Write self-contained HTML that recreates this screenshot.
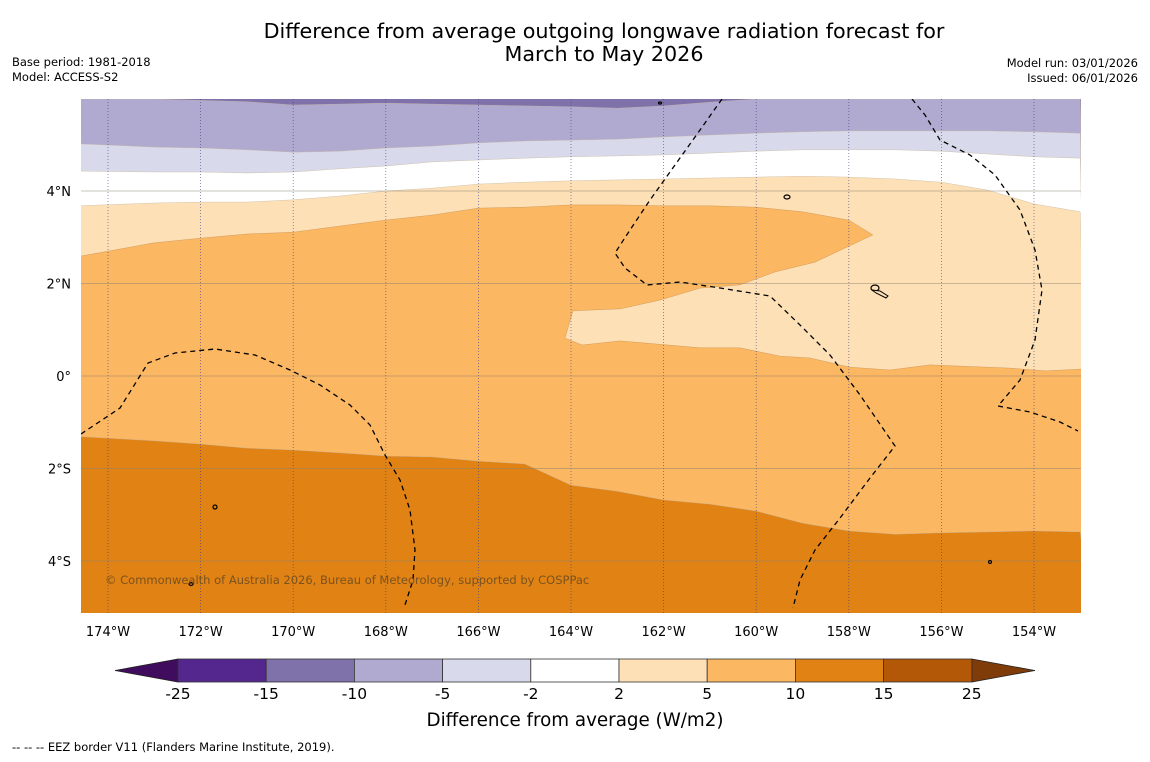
<!DOCTYPE html>
<html><head><meta charset="utf-8"><style>
body{margin:0;background:#fff;font-family:"DejaVu Sans","Liberation Sans",sans-serif;}
svg text{font-family:"DejaVu Sans","Liberation Sans",sans-serif;}
</style></head><body>
<svg id="c" width="1150" height="758" xmlns="http://www.w3.org/2000/svg">
<rect width="1150" height="758" fill="#fff"/>
<text x="604" y="38" font-size="20.7" text-anchor="middle">Difference from average outgoing longwave radiation forecast for</text>
<text x="604" y="61" font-size="20.7" text-anchor="middle">March to May 2026</text>
<text x="12" y="66" font-size="11.5">Base period: 1981-2018</text>
<text x="12" y="81" font-size="11.5">Model: ACCESS-S2</text>
<text x="1138" y="67" font-size="11.5" text-anchor="end">Model run: 03/01/2026</text>
<text x="1138" y="82" font-size="11.5" text-anchor="end">Issued: 06/01/2026</text>
<g id="map"></g>
<g id="cbar"></g>
<text x="575" y="726" font-size="18.3" text-anchor="middle">Difference from average (W/m2)</text>
<text x="12" y="751" font-size="11.5">--  --  -- EEZ border V11 (Flanders Marine Institute, 2019).</text>
</svg>
<script>
const lons=[-174.6,-173,-172,-171,-170,-169,-168,-167,-166,-165,-164,-163,-162,-161,-160,-159,-158,-157,-156,-155,-154,-153];
const latM10=[5.99,5.99,5.96,5.93,5.86,5.88,5.90,5.88,5.86,5.84,5.82,5.79,5.84,5.92,5.99,5.99,5.99,5.99,5.99,5.99,5.99,5.99];
const latM5=[5.02,4.95,4.93,4.89,4.84,4.86,4.93,4.97,5.04,5.08,5.10,5.12,5.17,5.21,5.25,5.28,5.30,5.30,5.30,5.30,5.28,5.25];
const latM2=[4.43,4.41,4.41,4.39,4.41,4.48,4.54,4.63,4.67,4.71,4.74,4.76,4.78,4.82,4.86,4.89,4.89,4.89,4.86,4.80,4.74,4.71];
const latP2=[3.68,3.74,3.76,3.76,3.81,3.89,4.00,4.06,4.15,4.19,4.22,4.24,4.26,4.28,4.30,4.32,4.30,4.26,4.19,4.02,3.72,3.55];
const latP10=[-1.31,-1.40,-1.47,-1.56,-1.60,-1.66,-1.73,-1.75,-1.84,-1.90,-2.36,-2.49,-2.68,-2.77,-2.92,-3.18,-3.35,-3.42,-3.39,-3.37,-3.35,-3.37];
const p5TopLon=[-174.6,-173,-172,-171,-170,-169,-168,-167,-166,-165,-164,-163,-162,-161,-160,-159,-158,-157.48];
const p5TopLat=[2.59,2.88,2.98,3.07,3.11,3.24,3.37,3.48,3.63,3.65,3.70,3.70,3.68,3.68,3.65,3.55,3.37,3.05];
const tongueTopLon=[-158.73,-159.59,-160.35,-161.21,-162.08,-162.94,-163.96,-164.13];
const tongueTopLat=[2.46,2.25,1.97,1.90,1.64,1.45,1.41,0.82];
const tongueBotLon=[-163.76,-162.94,-161.21,-160.35,-159.49,-158.84,-157.97,-157.11,-156.25,-154.52,-153.76,-152.98];
const tongueBotLat=[0.67,0.76,0.61,0.61,0.43,0.39,0.19,0.13,0.24,0.17,0.11,0.15];
const xTicks=[-174,-172,-170,-168,-166,-164,-162,-160,-158,-156,-154];
const yTicks=[4,2,0,-2,-4];
const cbLevels=["-25","-15","-10","-5","-2","2","5","10","15","25"];
const cbColors=["#54278f","#7f72ab","#b0a9d0","#d8d9ea","#ffffff","#fde0b6","#fbb762","#e08214","#b35806"];

const L=81,R=1081,T=99,B=613;
const X=lon=>108+(lon+174)*46.3;
const Y=lat=>376-lat*46.25;
const NS="http://www.w3.org/2000/svg";
const map=document.getElementById('map');
function el(tag,attrs,parent){const e=document.createElementNS(NS,tag);for(const k in attrs)e.setAttribute(k,attrs[k]);(parent||map).appendChild(e);return e;}
const cp=el('clipPath',{id:'mc'});el('rect',{x:L,y:T,width:R-L,height:B-T},cp);
const g=el('g',{'clip-path':'url(#mc)'});
function pts(lo,la){return lo.map((v,i)=>X(v).toFixed(1)+','+Y(la[i]).toFixed(1));}
function band(lats,color,name){
  const p=pts(lons,lats).concat([X(lons[lons.length-1])+10+','+(B+10),(X(lons[0])-10)+','+(B+10)]);
  const e=el('polygon',{points:p.join(' '),fill:color,stroke:'#c8b8a0','stroke-width':0.4},g);
  
  
}
const bg=el('rect',{x:L,y:T,width:R-L,height:B-T,fill:'#7f72ab'},g);


band(latM10,'#b0a9d0','band-minus10-to-minus5');
band(latM5,'#d8d9ea','band-minus5-to-minus2');
band(latM2,'#ffffff','band-minus2-to-2');
band(latP2,'#fde0b6','band-2-to-5');
{
  const p=pts(p5TopLon,p5TopLat).concat(pts(tongueTopLon,tongueTopLat),pts(tongueBotLon,tongueBotLat),[(R+10)+','+(B+10),(L-10)+','+(B+10)]);
  const e=el('polygon',{points:p.join(' '),fill:'#fbb762',stroke:'#c89050','stroke-width':0.4},g);
  
  
}
band(latP10,'#e08214','band-10-to-15');
xTicks.forEach(v=>{const l=el('line',{x1:X(v),x2:X(v),y1:T,y2:B,stroke:'#3a3a80','stroke-width':0.8,'stroke-dasharray':'1,2',opacity:0.7},g);

});
yTicks.forEach(v=>{const l=el('line',{x1:L,x2:R,y1:Y(v),y2:Y(v),stroke:'#8a8070','stroke-width':0.8,opacity:0.6},g);

});
const eez=["81,434 120,408 148,363 175,353 215,349 255,355 290,370 320,385 350,405 370,425 385,455 400,480 410,510 415,550 413,580 404,608",
"722,99 700,130 675,165 650,200 630,230 615,253 625,268 647,285 680,282 720,288 770,296 800,325 830,355 860,395 895,446 870,478 840,518 815,550 800,580 793,608",
"912,99 925,115 940,140 970,155 995,175 1020,210 1035,250 1042,290 1035,340 1020,380 998,406 1030,412 1060,422 1078,431"];
eez.forEach(p=>{const l=el('polyline',{points:p,fill:'none',stroke:'#000','stroke-width':1.3,'stroke-dasharray':'5,4'},g);

});
[[787,197,3,2],[875,288,4,3],[215,507,2,2],[191,584,2,1.5],[660,103,1.5,1],[990,562,1.5,1.5]].forEach(a=>{const e=el('ellipse',{cx:a[0],cy:a[1],rx:a[2],ry:a[3],fill:'none',stroke:'#000','stroke-width':1.2},g);

});
{const e=el('polygon',{points:'872,290 880,291 888,296 886,298 876,293',fill:'#fde0b6',stroke:'#000','stroke-width':1},g);

}
{const t=el('text',{x:105,y:584,'font-size':11.5,fill:'#6a4a20',opacity:0.85},g);t.textContent='© Commonwealth of Australia 2026, Bureau of Meteorology, supported by COSPPac';

}
xTicks.forEach(v=>{const t=el('text',{x:X(v),y:636,'font-size':13,'text-anchor':'middle'});t.textContent=Math.abs(v)+'°W';

});
yTicks.forEach(v=>{const t=el('text',{x:71,y:Y(v)+5,'font-size':13,'text-anchor':'end'});t.textContent=v===0?'0°':Math.abs(v)+'°'+(v>0?'N':'S');

});
const cb=document.getElementById('cbar');
const cx0=178,cw=88.2,cy=659,ch=23;
{const e=el('polygon',{points:`${cx0},${cy} 115,${cy+ch/2} ${cx0},${cy+ch}`,fill:'#3f0c5e',stroke:'#222','stroke-width':0.8},cb);

}
{const xe=cx0+cw*9;const e=el('polygon',{points:`${xe},${cy} 1035,${cy+ch/2} ${xe},${cy+ch}`,fill:'#7f3b08',stroke:'#222','stroke-width':0.8},cb);

}
cbColors.forEach((c,i)=>{const r=el('rect',{x:cx0+i*cw,y:cy,width:cw,height:ch,fill:c,stroke:'#333','stroke-width':0.8},cb);

});
cbLevels.forEach((v,i)=>{const t=el('text',{x:cx0+i*cw,y:699,'font-size':15.5,'text-anchor':'middle'},cb);t.textContent=v;

});
</script>
</body></html>
